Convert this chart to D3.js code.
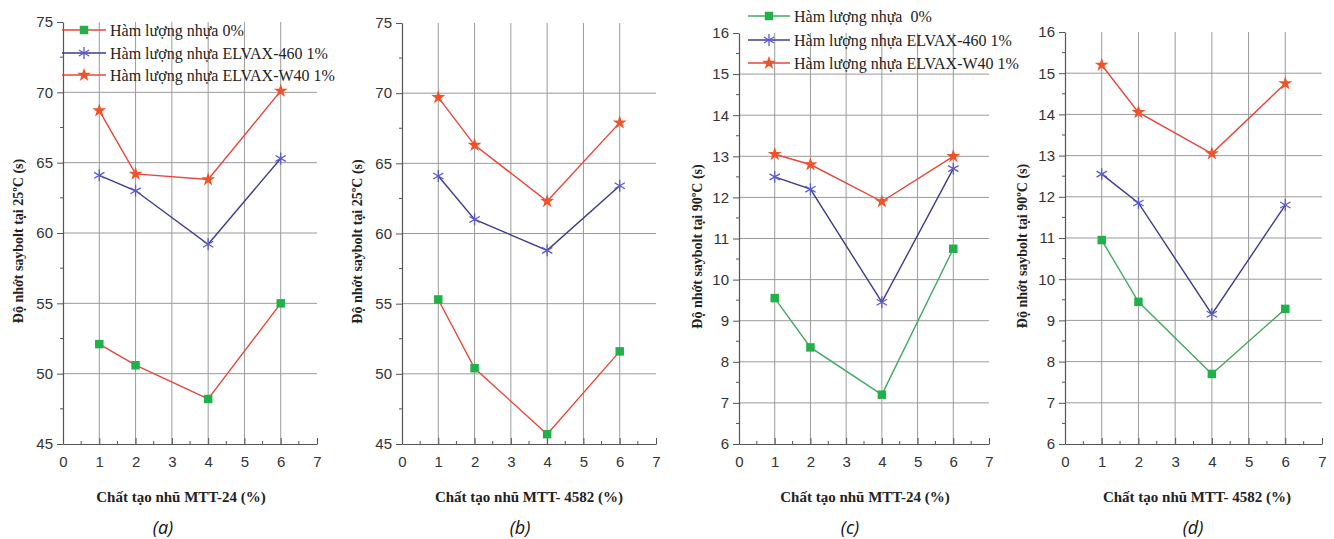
<!DOCTYPE html>
<html>
<head>
<meta charset="utf-8">
<script src="https://cdn.jsdelivr.net/npm/d3@7"></script>
<style>
  body { margin: 0; background: #fff; }
  svg { display: block; }
  text { white-space: pre; }
</style>
</head>
<body>
<svg id="chart" width="1334" height="539"></svg>
<script>
// data
const xValues = [1, 2, 4, 6];
const seriesNames = ["Hàm lượng nhựa 0%", "Hàm lượng nhựa ELVAX-460 1%", "Hàm lượng nhựa ELVAX-W40 1%"];
const seriesNamesC = ["Hàm lượng nhựa  0%", "Hàm lượng nhựa ELVAX-460 1%", "Hàm lượng nhựa ELVAX-W40 1%"];

const a0 = [52.1, 50.6, 48.2, 55.0];
const a460 = [64.1, 63.0, 59.2, 65.3];
const aW40 = [68.7, 64.2, 63.8, 70.1];

const b0 = [55.3, 50.4, 45.7, 51.6];
const b460 = [64.1, 61.0, 58.8, 63.4];
const bW40 = [69.7, 66.3, 62.3, 67.9];

const c0 = [9.55, 8.35, 7.2, 10.75];
const c460 = [12.5, 12.2, 9.45, 12.7];
const cW40 = [13.05, 12.8, 11.9, 13.0];

const d0 = [10.95, 9.45, 7.7, 9.28];
const d460 = [12.55, 11.85, 9.15, 11.8];
const dW40 = [15.2, 14.05, 13.05, 14.75];

const xTicks = [0, 1, 2, 3, 4, 5, 6, 7];
const yTicks25 = [45, 50, 55, 60, 65, 70, 75];
const yTicks90 = [6, 7, 8, 9, 10, 11, 12, 13, 14, 15, 16];

const yLabel25 = "Độ nhớt saybolt tại 25ºC (s)";
const yLabel90 = "Độ nhớt saybolt tại 90ºC (s)";
const xLabel24 = "Chất tạo nhũ MTT-24 (%)";
const xLabel4582 = "Chất tạo nhũ MTT- 4582 (%)";
const panelTags = ["(a)", "(b)", "(c)", "(d)"];

const red = "#e8463a", starRed = "#f0522a", blue = "#3c3c8c", starBlue = "#5a5ad0",
  green = "#22b04a", greenLine = "#45a865", grid = "#9a9a9a", axisCol = "#555";

const panels = [
  { left: 63, right: 317, top: 22, bottom: 444, domain: [45, 75], yTicks: yTicks25, minorStep: 2.5,
    series: [a0, a460, aW40], zeroLine: red, yLabel: yLabel25, yLabelX: 18, xLabel: xLabel24, xLabelX: 181, tagX: 163,
    legend: { x: 62, ys: [30, 53, 75], names: seriesNames, lineW: 44 } },
  { left: 402, right: 656, top: 23, bottom: 444, domain: [45, 75], yTicks: yTicks25, minorStep: 2.5,
    series: [b0, b460, bW40], zeroLine: red, yLabel: yLabel25, yLabelX: 357, xLabel: xLabel4582, xLabelX: 529, tagX: 520 },
  { left: 739, right: 989, top: 33, bottom: 444, domain: [6, 16], yTicks: yTicks90, minorStep: 0.5,
    series: [c0, c460, cW40], zeroLine: greenLine, yLabel: yLabel90, yLabelX: 697, xLabel: xLabel24, xLabelX: 865, tagX: 850,
    legend: { x: 748, ys: [16, 40, 63], names: seriesNamesC, lineW: 42 } },
  { left: 1065, right: 1322, top: 32, bottom: 444, domain: [6, 16], yTicks: yTicks90, minorStep: 0.5,
    series: [d0, d460, dW40], zeroLine: greenLine, yLabel: yLabel90, yLabelX: 1022, xLabel: xLabel4582, xLabelX: 1197, tagX: 1193 }
];

const svg = d3.select("#chart");

const symSquare = d3.symbol().type(d3.symbolSquare).size(72);
const symAst = d3.symbol().type(d3.symbolAsterisk).size(100);
const symStar = d3.symbol().type(d3.symbolStar).size(60);

function drawMarker(g, kind, x, y) {
  if (kind === 0) {
    g.append("path").attr("d", symSquare()).attr("transform", `translate(${x},${y})`).attr("fill", green);
  } else if (kind === 1) {
    g.append("path").attr("d", symAst()).attr("transform", `translate(${x},${y})`)
      .attr("fill", "none").attr("stroke", starBlue).attr("stroke-width", 1.3);
  } else {
    g.append("path").attr("d", symStar()).attr("transform", `translate(${x},${y})`).attr("fill", starRed);
  }
}

panels.forEach((p, pi) => {
  const x = d3.scaleLinear().domain([0, 7]).range([p.left, p.right]);
  const y = d3.scaleLinear().domain(p.domain).range([p.bottom, p.top]);
  const g = svg.append("g");

  // grid
  g.selectAll(".vgrid").data([1, 2, 3, 4, 5, 6]).enter().append("line")
    .attr("x1", d => x(d)).attr("x2", d => x(d))
    .attr("y1", y(p.domain[1])).attr("y2", y(p.domain[0]))
    .attr("stroke", grid).attr("stroke-width", 1);
  g.selectAll(".hgrid").data(p.yTicks.slice(1, -1)).enter().append("line")
    .attr("x1", x(0)).attr("x2", x(7))
    .attr("y1", d => y(d)).attr("y2", d => y(d))
    .attr("stroke", grid).attr("stroke-width", 1);

  // y axis
  const yMinor = d3.range(p.domain[0], p.domain[1] + 1e-6, p.minorStep).filter(v => !p.yTicks.includes(v));
  const yAxis = g.append("g").attr("transform", `translate(${p.left},0)`)
    .call(d3.axisLeft(y).tickValues(p.yTicks).tickFormat(d3.format("d")).tickSize(6).tickSizeOuter(0).tickPadding(4));
  yAxis.append("g").selectAll("line").data(yMinor).enter().append("line")
    .attr("x1", -3).attr("x2", 0).attr("y1", d => y(d)).attr("y2", d => y(d)).attr("stroke", axisCol);

  // x axis (ticks point inward)
  const xMinor = d3.range(0.5, 7, 1);
  const xAxis = g.append("g").attr("transform", `translate(0,${p.bottom})`)
    .call(d3.axisBottom(x).tickValues(xTicks).tickFormat(d3.format("d")).tickSize(-6).tickSizeOuter(0).tickPadding(12));
  xAxis.append("g").selectAll("line").data(xMinor).enter().append("line")
    .attr("x1", d => x(d)).attr("x2", d => x(d)).attr("y1", -3).attr("y2", 0).attr("stroke", axisCol);

  [yAxis, xAxis].forEach(ax => {
    ax.select(".domain").attr("stroke", axisCol).attr("stroke-width", 1.2);
    ax.selectAll(".tick line").attr("stroke", axisCol);
    ax.selectAll(".tick text").attr("font-family", "Liberation Sans, Arial, sans-serif")
      .attr("font-size", 15).attr("fill", "#333");
  });

  // series lines + markers
  const lineColors = [p.zeroLine, blue, red];
  const line = d3.line().x((d, i) => x(xValues[i])).y(d => y(d));
  p.series.forEach((vals, si) => {
    g.append("path").datum(vals).attr("d", line)
      .attr("fill", "none").attr("stroke", lineColors[si]).attr("stroke-width", 1.4);
    vals.forEach((v, i) => drawMarker(g, si, x(xValues[i]), y(v)));
  });

  // legend
  if (p.legend) {
    const L = p.legend;
    L.ys.forEach((ly, si) => {
      g.append("line").attr("x1", L.x).attr("x2", L.x + L.lineW).attr("y1", ly).attr("y2", ly)
        .attr("stroke", lineColors[si]).attr("stroke-width", 1.4);
      drawMarker(g, si, L.x + L.lineW / 2, ly);
      g.append("text").attr("x", L.x + L.lineW + 4).attr("y", ly).attr("dy", "0.35em")
        .attr("font-family", "Liberation Serif, Times New Roman, serif").attr("font-size", 16)
        .attr("fill", "#222").text(L.names[si]);
    });
  }

  // axis titles
  g.append("text")
    .attr("transform", `translate(${p.yLabelX},${(p.top + p.bottom) / 2 + 8}) rotate(-90)`)
    .attr("text-anchor", "middle").attr("dy", "0.35em")
    .attr("font-family", "Liberation Serif, Times New Roman, serif").attr("font-weight", "bold")
    .attr("font-size", 14).attr("fill", "#222").text(p.yLabel);
  g.append("text").attr("x", p.xLabelX).attr("y", 502).attr("text-anchor", "middle")
    .attr("font-family", "Liberation Serif, Times New Roman, serif").attr("font-weight", "bold")
    .attr("font-size", 15).attr("fill", "#222").text(p.xLabel);
  g.append("text").attr("x", p.tagX).attr("y", 534).attr("text-anchor", "middle")
    .attr("font-family", "Open Sans, sans-serif").attr("font-style", "italic")
    .attr("font-size", 18).attr("fill", "#111").text(panelTags[pi]);
});
</script>
</body>
</html>
